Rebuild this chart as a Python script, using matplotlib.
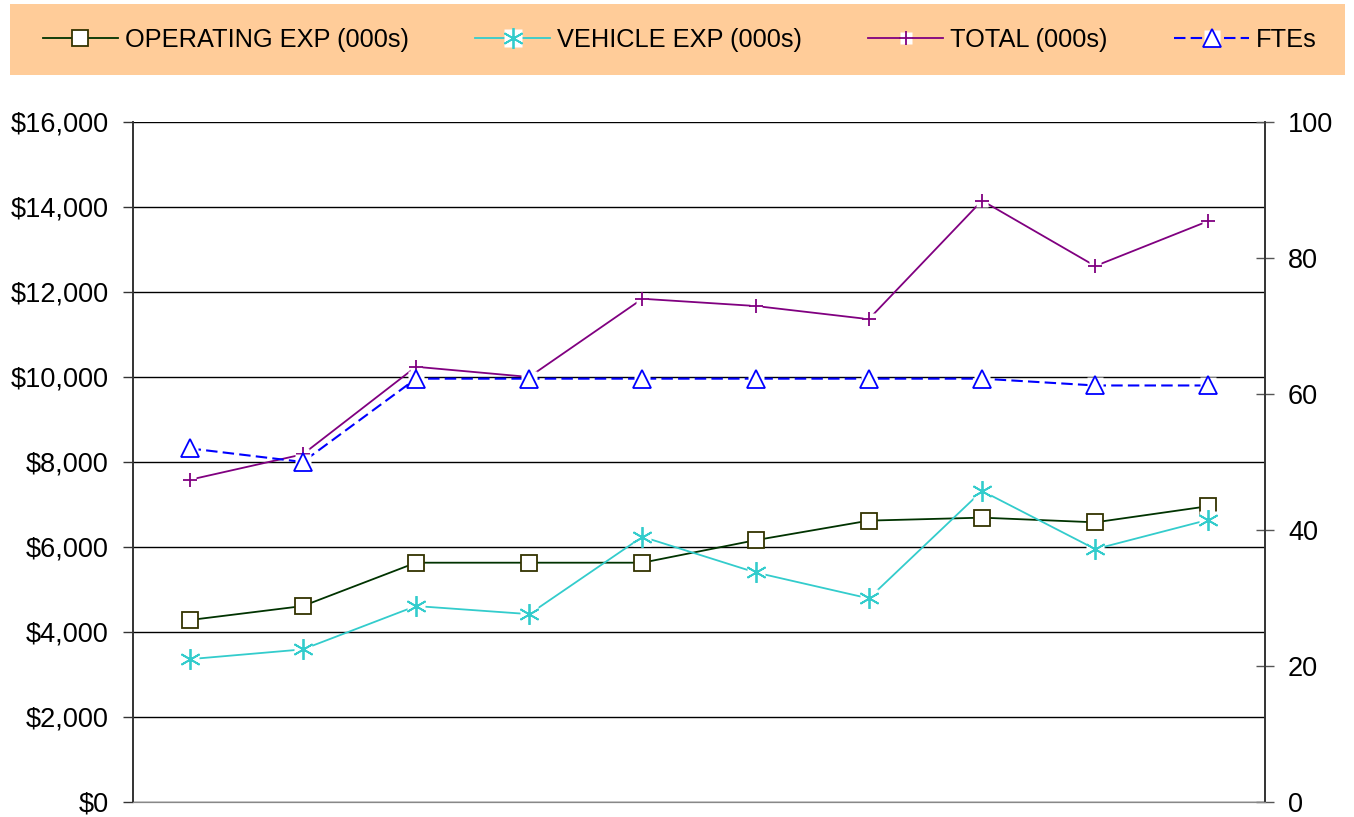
import matplotlib.pyplot as plt
from matplotlib.patches import Rectangle
from matplotlib.ticker import FuncFormatter

plt.rcParams['font.family'] = ['Liberation Sans', 'DejaVu Sans']

# data (10 periods, no labels on the x axis)
periods   = list(range(10))
operating = [4280, 4610, 5630, 5630, 5630, 6160, 6620, 6690, 6580, 6960]
vehicle   = [3360, 3590, 4610, 4420, 6240, 5400, 4790, 7320, 5950, 6640]
total     = [7580, 8180, 10240, 10000, 11840, 11670, 11360, 14150, 12610, 13670]
ftes      = [52.0, 50.0, 62.25, 62.25, 62.25, 62.25, 62.25, 62.25, 61.25, 61.25]

left_ticks  = [0, 2000, 4000, 6000, 8000, 10000, 12000, 14000, 16000]
right_ticks = [0, 20, 40, 60, 80, 100]

fig = plt.figure(figsize=(13.54, 8.17), dpi=100)
ax = fig.add_axes([0.0982, 0.0184, 0.8361, 0.8323])
ax2 = ax.twinx()

# orange legend band
fig.patches.append(Rectangle((10 / 1354, 1 - 75 / 817), 1335 / 1354, 71 / 817,
                             transform=fig.transFigure, facecolor='#FFCC99',
                             edgecolor='none', zorder=0))

def series(a, y, color, marker, ms, mfc, mec, lw=1.3, **kw):
    ln, = a.plot(periods, y, color=color, lw=lw, **kw)
    bg, = a.plot(periods, y, 's', ms=ms * 0.9, mfc='white', mec='none')
    mk, = a.plot(periods, y, ls='none', marker=marker, ms=ms, mfc=mfc,
                 mec=mec, mew=1.3)
    return (ln, bg, mk)

h_op = series(ax, operating, '#003300', 's', 11, 'white', '#333300')
h_ve = series(ax, vehicle, '#33CCCC', (6, 2, 0), 15, '#33CCCC', '#33CCCC')
h_to = series(ax, total, '#800080', '+', 10, '#800080', '#800080')
h_ft = series(ax2, ftes, '#0000FF', '^', 13, 'white', '#0000FF',
              lw=1.5, dashes=(5.5, 2.5))

ax.set_xlim(-0.5, 9.5)
ax.set_xticks([])
ax.set_ylim(0, 16000)
ax.set_yticks(left_ticks)
ax.yaxis.set_major_formatter(FuncFormatter(lambda v, p: f'${v:,.0f}'))
ax.grid(axis='y', color='black', lw=1)
ax.set_axisbelow(True)
ax.tick_params(axis='y', labelsize=19.5, length=7, width=1, color='#333333', pad=10.5)

ax2.set_ylim(0, 100)
ax2.set_yticks(right_ticks)
ax2.tick_params(axis='y', labelsize=19.5, direction='inout', length=13, width=1,
                color='#555555', pad=10)

for a in (ax, ax2):
    a.spines['top'].set_visible(False)
    a.spines['left'].set_color('#333333')
    a.spines['right'].set_color('#333333')
    a.spines['bottom'].set_color('#888888')
    a.spines['left'].set_linewidth(1.2)
    a.spines['right'].set_linewidth(1.2)

fig.legend([h_op, h_ve, h_to, h_ft],
           ['OPERATING EXP (000s)', 'VEHICLE EXP (000s)', 'TOTAL (000s)', 'FTEs'],
           loc='center left', bbox_to_anchor=(43 / 1354, 1 - 40 / 817),
           ncol=4, frameon=False, fontsize=18.3, borderpad=0, borderaxespad=0,
           handlelength=2.95, handletextpad=0.28, columnspacing=2.6)

fig.savefig('out.png', dpi=100)
